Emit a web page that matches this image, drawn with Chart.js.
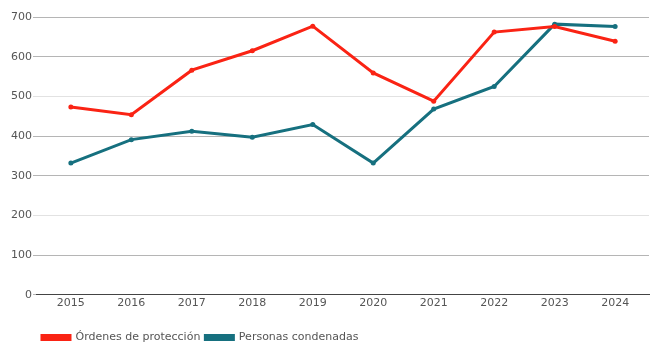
<!DOCTYPE html>
<html>
<head>
<meta charset="utf-8">
<script src="https://cdn.jsdelivr.net/npm/chart.js@4"></script>
<style>
  html, body { margin: 0; padding: 0; background: #fff; }
  #wrap { width: 656px; height: 345px; }
</style>
</head>
<body>
<div id="wrap"><canvas id="myChart" width="656" height="345"></canvas></div>
<script>
// datos
const years = [2015, 2016, 2017, 2018, 2019, 2020, 2021, 2022, 2023, 2024];
const ordenes = [473, 454, 566, 615, 677, 559, 488, 662, 676, 639];
const condenadas = [332, 391, 412, 397, 429, 332, 468, 525, 682, 676];
const yTicks = [0, 100, 200, 300, 400, 500, 600, 700];

const ctx = document.getElementById('myChart').getContext('2d');

new Chart(ctx, {
    type: 'line',
    data: {
        datasets: [{
            label: 'Órdenes de protección',
            data: years.map((y, i) => ({ x: y, y: ordenes[i] })),
            borderColor: '#fa2314',
            backgroundColor: '#fa2314',
            borderWidth: 3,
            pointRadius: 2.5,
            pointBorderWidth: 0,
            pointHoverRadius: 3
        }, {
            label: 'Personas condenadas',
            data: years.map((y, i) => ({ x: y, y: condenadas[i] })),
            borderColor: '#16707f',
            backgroundColor: '#16707f',
            borderWidth: 3,
            pointRadius: 2.5,
            pointBorderWidth: 0,
            pointHoverRadius: 3
        }]
    },
    options: {
        responsive: false,
        animation: false,
        layout: { padding: { top: 17, right: 7, left: 10, bottom: -8 } },
        scales: {
            x: {
                type: 'linear',
                min: years[0] - 0.56,
                max: years[years.length - 1] + 0.56,
                afterBuildTicks: axis => { axis.ticks = years.map(v => ({ value: v })); },
                afterFit: axis => { axis.height += 15; },
                ticks: {
                    color: '#555',
                    font: { family: 'DejaVu Sans', size: 11 },
                    callback: v => String(v),
                    padding: 2,
                    maxRotation: 0
                },
                grid: { display: false, drawTicks: false },
                border: { display: true, color: '#444', width: 1 }
            },
            y: {
                min: 0,
                max: 700,
                afterBuildTicks: axis => { axis.ticks = yTicks.map(v => ({ value: v })); },
                ticks: {
                    color: '#555',
                    font: { family: 'DejaVu Sans', size: 11 },
                    padding: 1
                },
                grid: {
                    color: c => (c.tick && (c.tick.value === 200 || c.tick.value === 500)) ? '#e2e2e2' : '#b5b5b5',
                    lineWidth: 1,
                    tickLength: 4,
                    drawTicks: true
                },
                border: { display: false }
            }
        },
        plugins: {
            legend: {
                position: 'bottom',
                align: 'start',
                fullSize: false,
                labels: {
                    color: '#555',
                    font: { family: 'DejaVu Sans', size: 11 },
                    boxWidth: 28,
                    boxHeight: 4,
                    padding: 5
                }
            },
            tooltip: { enabled: false }
        }
    }
});
</script>
</body>
</html>
